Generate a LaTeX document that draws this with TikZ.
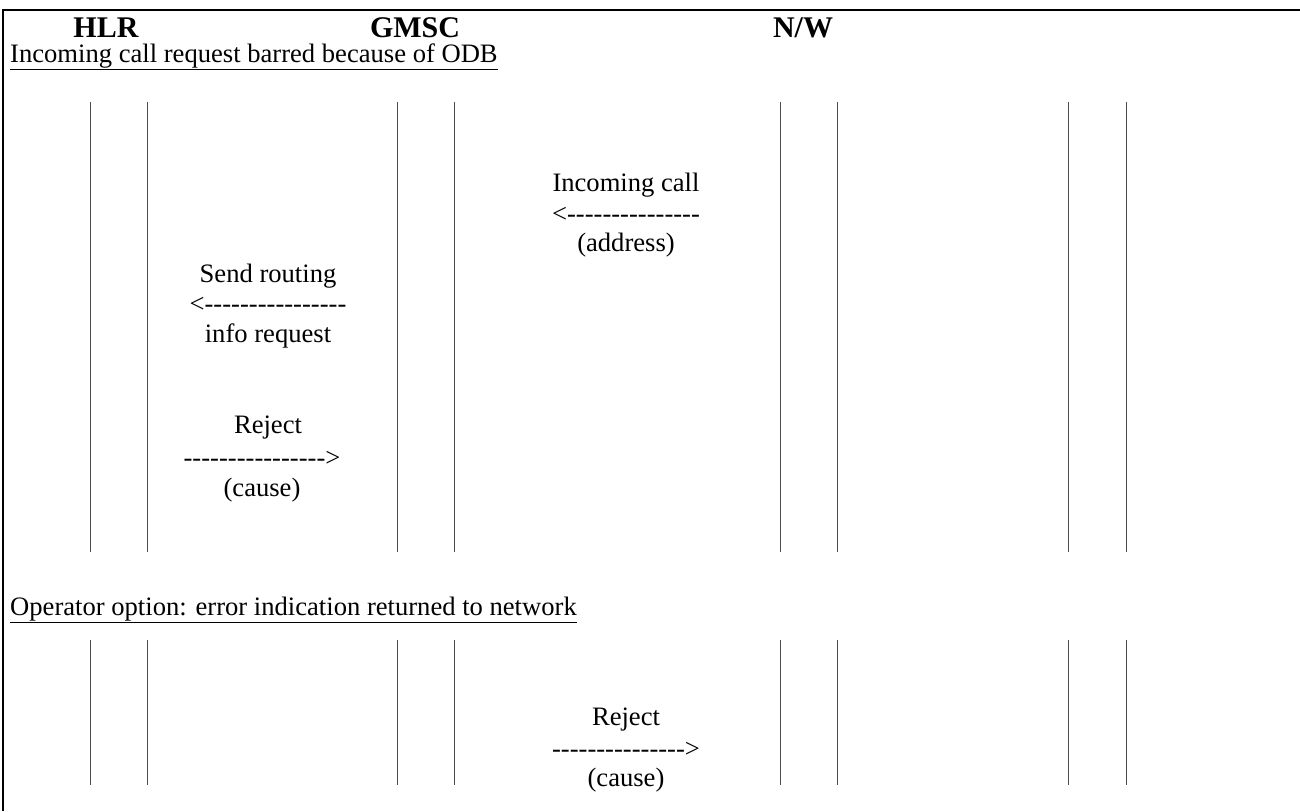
\documentclass[tikz,border=0pt]{standalone}
\usepackage{fontspec}
\setmainfont{Liberation Serif}
\begin{document}
\begin{tikzpicture}[x=1pt,y=-1pt,
  hdr/.style={inner sep=0pt,anchor=base,font=\fontsize{30}{32}\selectfont\bfseries},
  msg/.style={inner sep=0pt,font=\fontsize{26.6}{30}\selectfont},
  sect/.style={inner sep=0pt,anchor=base west,text height=0.7em,font=\fontsize{26.6}{30}\selectfont},
  life/.style={draw=black!70,line width=0.8pt},
  frame/.style={draw=black,line width=2pt}]
\useasboundingbox (0,0) rectangle (1300,811);
% frame
\coordinate (fl) at (3,811);
\coordinate (ftl) at (3,10);
\coordinate (fr) at (1300,10);
\draw[frame] (fl) -- (ftl) -- (fr);
% headers
\node[hdr] (hlr) at (106,37) {HLR};
\node[hdr] (gmsc) at (415,37) {GMSC};
\node[hdr] (nw) at (803,37) {N/W};
\node[sect] (s1) at (10,62) {\underline{Incoming call request barred because of ODB}};
\node[sect] (s2) at (10,615) {\underline{Operator option: error indication returned to network}};
% lifelines
\foreach \x [count=\i] in {90,147,397,454,780,837,1068,1126}{
  \coordinate (a\i) at (\x,102);
  \coordinate (b\i) at (\x,552);
  \coordinate (c\i) at (\x,640);
  \coordinate (d\i) at (\x,785);
  \draw[life] (a\i) -- (b\i);
  \draw[life] (c\i) -- (d\i);
}
% messages
\node[msg] (m1a) at (626,185) {Incoming call};
\node[msg] (m1b) at (626,215) {<{}-{}-{}-{}-{}-{}-{}-{}-{}-{}-{}-{}-{}-{}-{}-};
\node[msg] (m1c) at (626,245) {(address)};
\node[msg] (m2a) at (268,276) {Send routing};
\node[msg] (m2b) at (268,305) {<{}-{}-{}-{}-{}-{}-{}-{}-{}-{}-{}-{}-{}-{}-{}-{}-};
\node[msg] (m2c) at (268,336) {info request};
\node[msg] (m3a) at (268,428) {Reject};
\node[msg] (m3b) at (262,459) {-{}-{}-{}-{}-{}-{}-{}-{}-{}-{}-{}-{}-{}-{}-{}->};
\node[msg] (m3c) at (262,490) {(cause)};
\node[msg] (m4a) at (626,720) {Reject};
\node[msg] (m4b) at (626,750) {-{}-{}-{}-{}-{}-{}-{}-{}-{}-{}-{}-{}-{}-{}->};
\node[msg] (m4c) at (626,780) {(cause)};
\end{tikzpicture}
\end{document}
